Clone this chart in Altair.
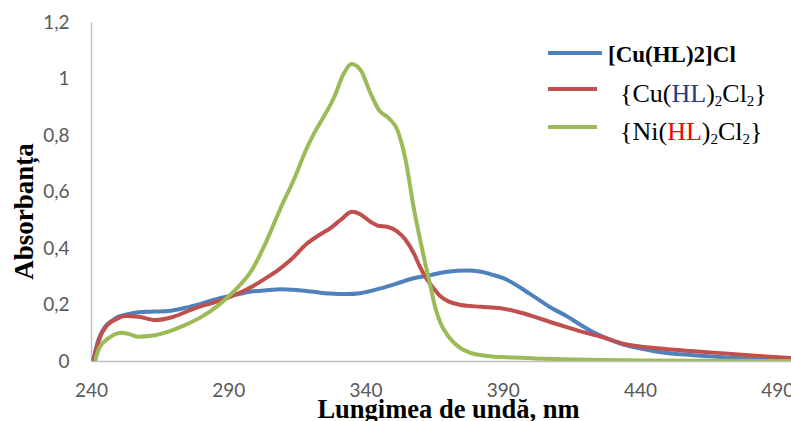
import altair as alt
import pandas as pd

# ---------------- data ----------------
blue_wl = [240.8, 242.5, 245.1, 248, 250, 253, 256, 260, 268, 275, 280.4, 286, 292.5, 298,
           304.7, 309, 315, 321, 327, 333.3, 338, 345.5, 351, 357.6, 363.7, 369.8, 377, 382,
           386, 391.7, 396, 401.4, 407, 413.6, 418, 422, 428, 434.3, 440, 446.5, 458.6, 470.8,
           483, 497]
blue_a = [0, 0.07, 0.121, 0.145, 0.157, 0.165, 0.171, 0.174, 0.177, 0.19, 0.204, 0.22, 0.234,
          0.245, 0.251, 0.254, 0.251, 0.245, 0.239, 0.237, 0.24, 0.257, 0.273, 0.293, 0.304,
          0.316, 0.32, 0.316, 0.306, 0.287, 0.262, 0.228, 0.192, 0.157, 0.13, 0.107, 0.08,
          0.057, 0.045, 0.033, 0.021, 0.013, 0.007, 0.003]

red_wl = [240.8, 242.3, 243.9, 245.5, 247.5, 250, 252.4, 257.3, 263.4, 269.5, 278, 287.7,
          298.6, 304, 309, 313, 318.7, 323, 327.2, 331, 335.1, 338, 341.8, 344.5, 347.9,
          351.6, 354.5, 357.6, 360, 362.5, 365, 367.4, 370, 374.7, 382, 389.3, 395, 401.4,
          407, 413.6, 419, 425.8, 434.3, 446.5, 458.6, 470.8, 483, 497]
red_a = [0, 0.055, 0.098, 0.122, 0.139, 0.152, 0.159, 0.157, 0.145, 0.155, 0.187, 0.216,
         0.263, 0.295, 0.328, 0.36, 0.416, 0.445, 0.47, 0.5, 0.528, 0.52, 0.493, 0.479,
         0.475, 0.458, 0.43, 0.381, 0.33, 0.287, 0.255, 0.228, 0.212, 0.198, 0.192, 0.187,
         0.175, 0.157, 0.139, 0.119, 0.103, 0.086, 0.06, 0.045, 0.035, 0.027, 0.018, 0.009]

green_wl = [241.5, 242.7, 244.5, 246.3, 248.5, 251.2, 254, 257.3, 262, 268.2, 274, 280.4,
            286.5, 292.5, 298.6, 304.1, 309, 313.8, 318.7, 321.5, 324.8, 328.4, 332.1, 334.9,
            338.2, 341.8, 344.9, 348.5, 351.6, 354.6, 357.6, 360.7, 363.7, 365.5, 367.4, 370,
            374.7, 378, 384.4, 392, 401, 412, 425.8, 440, 460, 480, 497]
green_a = [0, 0.039, 0.066, 0.08, 0.094, 0.1, 0.095, 0.086, 0.089, 0.104, 0.126, 0.157,
           0.198, 0.251, 0.322, 0.428, 0.54, 0.64, 0.755, 0.81, 0.865, 0.93, 1.018, 1.051,
           1.03, 0.948, 0.888, 0.859, 0.818, 0.712, 0.54, 0.393, 0.263, 0.186, 0.133, 0.09,
           0.045, 0.03, 0.018, 0.013, 0.0095, 0.006, 0.0035, 0.002, 0.001, 0.0005, 0.0003]

x_ticks = [240, 290, 340, 390, 440, 490]
y_ticks = [0, 0.2, 0.4, 0.6, 0.8, 1.0, 1.2]

BLUE, RED, GREEN = "#4F81BD", "#C0504D", "#9BBB59"

# ---------------- layout constants ----------------
LEFT, TOP = 91, 22
W, H = 700, 339

x_scale = alt.Scale(domain=[240, 495], nice=False, zero=False)
y_scale = alt.Scale(domain=[0, 1.2], nice=False, zero=False)

x_axis = alt.Axis(values=x_ticks, title="Lungimea de undă, nm", grid=False, ticks=False,
                  tickSize=0, labelPadding=20, labelFont="Lato", labelFontSize=19,
                  labelColor="#595959", domainColor="#BFBFBF", domainWidth=1.5,
                  titleFont="Liberation Serif", titleFontSize=26.5, titleFontWeight="bold",
                  titleColor="#000000", titleX=357, titleY=56, titleAlign="center",
                  titleBaseline="alphabetic", labelFlush=False)
y_axis = alt.Axis(values=y_ticks, title="Absorbanța", grid=False, ticks=False, tickSize=0,
                  labelPadding=22, labelFont="Lato", labelFontSize=19, labelColor="#595959",
                  domainColor="#BFBFBF", domainWidth=1.5,
                  labelExpr="replace(format(datum.value, '.1~f'), '.', ',')",
                  titleFont="Liberation Serif", titleFontSize=27, titleFontWeight="bold",
                  titleColor="#000000", titleAngle=270, titleX=-67, titleY=189,
                  titleAlign="center", titleBaseline="middle")


def series_layer(wl, a, color):
    df = pd.DataFrame({"wl": wl, "a": a})
    return alt.Chart(df).mark_line(strokeWidth=4, interpolate="monotone", clip=True,
                                   color=color).encode(
        x=alt.X("wl:Q", scale=x_scale, axis=x_axis),
        y=alt.Y("a:Q", scale=y_scale, axis=y_axis),
    )


layers = [
    series_layer(blue_wl, blue_a, BLUE),
    series_layer(red_wl, red_a, RED),
    series_layer(green_wl, green_a, GREEN),
]

# ---------------- manual legend ----------------
TIMES = {'{': 0.48, 'C': 0.667, 'u': 0.5, '(': 0.333, 'H': 0.722, 'L': 0.611, ')': 0.333,
         '2': 0.5, 'l': 0.278, '}': 0.48, 'N': 0.722, 'i': 0.278}


def text_piece(t, x, y, size, color, bold=False):
    return alt.Chart(pd.DataFrame({"t": [t]})).mark_text(
        align="left", baseline="alphabetic", font="Liberation Serif", fontSize=size,
        fontWeight="bold" if bold else "normal", color=color
    ).encode(x=alt.value(x), y=alt.value(y), text="t:N")


def swatch(x1, x2, y, color):
    return alt.Chart(pd.DataFrame({"d": [0]})).mark_rule(strokeWidth=4, color=color).encode(
        x=alt.value(x1 - LEFT), x2=alt.value(x2 - LEFT), y=alt.value(y - TOP))


MAIN, SUB = 26, 15


def formula(start_x, base_y, metal, hl_color):
    pieces = [("{" + metal + "(", "#000000", MAIN, 0), ("HL", hl_color, MAIN, 0),
              (")", "#000000", MAIN, 0), ("2", "#000000", SUB, 4),
              ("Cl", "#000000", MAIN, 0), ("2", "#000000", SUB, 4), ("}", "#000000", MAIN, 0)]
    out = []
    x = start_x - LEFT
    for t, c, s, dy in pieces:
        out.append(text_piece(t, x, base_y - TOP + dy, s, c))
        x += sum(TIMES[ch] for ch in t) * s
    return out


legend = [
    swatch(548, 602, 53, BLUE),
    text_piece("[Cu(HL)2]Cl", 608 - LEFT, 62 - TOP, 23, "#000000", bold=True),
    swatch(548, 597, 89, RED),
    swatch(548, 597, 127, GREEN),
]
legend += formula(620, 102, "Cu", "#1F3C88")
legend += formula(620, 140, "Ni", "#FF0000")

chart = alt.layer(*layers, *legend).properties(
    width=W, height=H,
    autosize=alt.AutoSizeParams(type="none"),
    padding={"left": LEFT, "top": TOP, "right": 0, "bottom": 421 - TOP - H},
    background="white",
).configure_view(stroke=None)

chart.save("out.html", embed_options={"renderer": "svg", "actions": False})
